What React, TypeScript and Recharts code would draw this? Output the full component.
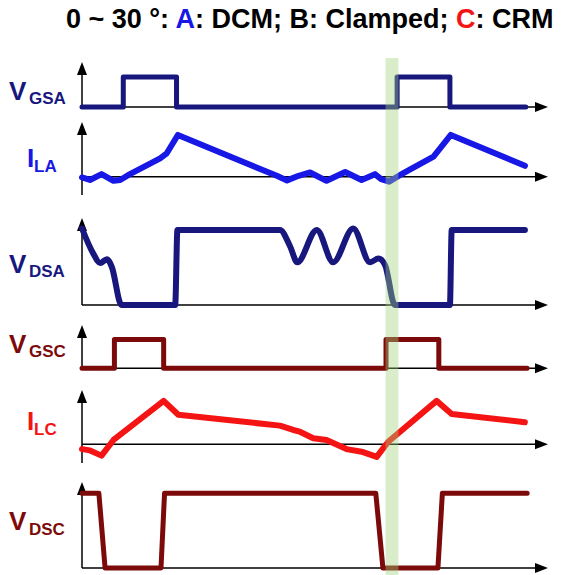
import React from 'react';
import { LineChart, Line, XAxis, YAxis, ReferenceLine, ReferenceArea } from 'recharts';

// time axis: 0 .. 105 (arbitrary time units)
const T_MAX = 105;

// waveform points: [time, value]
const vgsa: [number, number][] = [
  [0, 0], [9.3, 0], [9.3, 1], [21.3, 1], [21.3, 0], [71, 0], [71, 1], [82.9, 1], [82.9, 0], [100, 0],
];
const ila: [number, number][] = [
  [0, -0.02], [1.8, -0.08], [4.4, 0.06], [7.1, -0.1], [8.6, -0.08], [10.8, 0.06], [17.6, 0.44], [19.1, 0.56],
  [21.6, 1.0], [43.9, 0.02], [46.2, -0.09], [48.8, 0.02], [51.4, 0.1], [55.1, -0.1], [59.3, 0.11], [63.0, -0.08],
  [66.0, 0.06], [67.4, -0.06], [69.2, -0.12], [71.7, 0.04], [79.2, 0.48], [83.1, 1.0], [99.8, 0.26],
];
const vdsa: [number, number][] = [
  [0, 1.02], [2.5, 0.69], [4.1, 0.56], [5.6, 0.61], [6.7, 0.51], [8.9, 0], [21.0, 0], [21.5, 1], [44.6, 1],
  [46.9, 0.78], [48.5, 0.57], [52.9, 1.0], [56.6, 0.57], [61.1, 1.02], [64.9, 0.57], [66.8, 0.62], [68.3, 0.53],
  [70.5, 0], [82.9, 0], [83.3, 1], [99.8, 1],
];
const vgsc: [number, number][] = [
  [0, 0], [7.3, 0], [7.3, 1], [18.4, 1], [18.4, 0], [68.5, 0], [68.5, 1], [80.4, 1], [80.4, 0], [100.3, 0],
];
const ilc: [number, number][] = [
  [0, -0.11], [1.8, -0.14], [4.4, -0.26], [7.1, 0.1], [18.4, 1.0], [21.7, 0.68], [44.6, 0.43], [47.6, 0.33],
  [49.1, 0.29], [52.1, 0.14], [55.1, 0.1], [59.6, -0.11], [63.0, -0.17], [66.4, -0.29], [69.0, 0.06],
  [79.9, 1.0], [83.3, 0.7], [99.8, 0.51],
];
const vdsc: [number, number][] = [
  [0, 1], [3.8, 1], [5.2, 0], [17.8, 0], [18.6, 1], [66.2, 1], [67.8, 0], [80.2, 0], [81.2, 1], [100.3, 1],
];

// highlighted interval (time units)
const bandStart = 68.4;
const bandEnd = 71.3;

const NAVY = '#17177d';
const BLUE = '#1717e6';
const MAROON = '#7d0a0a';
const RED = '#f41414';

const LEFT = 82;
const RIGHT = 13;
const FONT = '"Liberation Sans", Arial, sans-serif';

const toRows = (pts: [number, number][]) => pts.map(([t, v]) => ({ t, v }));

const HArrow = (p: any) => {
  const x1 = Math.min(p.x1, p.x2);
  const x2 = Math.max(p.x1, p.x2);
  const y = p.y1;
  return (
    <g>
      <line x1={x1} y1={y} x2={x2 - 6} y2={y} stroke="#000" strokeWidth={1.5} />
      <polygon points={`${x2},${y} ${x2 - 13},${y - 5} ${x2 - 13},${y + 5}`} fill="#000" />
    </g>
  );
};

const VArrow = (p: any) => {
  const yTop = Math.min(p.y1, p.y2);
  const yBot = Math.max(p.y1, p.y2);
  const x = p.x1;
  return (
    <g>
      <line x1={x} y1={yTop + 6} x2={x} y2={yBot} stroke="#000" strokeWidth={1.5} />
      <polygon points={`${x},${yTop} ${x - 5},${yTop + 13} ${x + 5},${yTop + 13}`} fill="#000" />
    </g>
  );
};

type PanelProps = {
  pts: [number, number][];
  top: number;
  bottom: number;
  domain: [number, number];
  color: string;
  sw: number;
  curve?: 'linear' | 'monotone';
};

function Panel({ pts, top, bottom, domain, color, sw, curve = 'linear' }: PanelProps) {
  const pad = 8;
  return (
    <div style={{ position: 'absolute', left: 0, top: top - pad }}>
      <LineChart
        width={561}
        height={bottom - top + 2 * pad}
        data={toRows(pts)}
        margin={{ top: pad, bottom: pad, left: LEFT, right: RIGHT }}
      >
        <XAxis type="number" dataKey="t" domain={[0, T_MAX]} hide />
        <YAxis type="number" domain={domain} hide />
        <ReferenceLine y={0} shape={HArrow} />
        <ReferenceLine x={0} shape={VArrow} />
        <Line
          type={curve}
          dataKey="v"
          stroke={color}
          strokeWidth={sw}
          dot={false}
          activeDot={false}
          strokeLinejoin="round"
          strokeLinecap="round"
          isAnimationActive={false}
        />
      </LineChart>
    </div>
  );
}

function Label({ main, sub, x, subX, base, subBase, color }: any) {
  const mainSize = 26;
  const subSize = 17;
  return (
    <>
      <div
        style={{
          position: 'absolute', left: x, top: base - 0.8465 * mainSize, fontSize: mainSize,
          lineHeight: 1, fontWeight: 700, fontFamily: FONT, color,
        }}
      >
        {main}
      </div>
      <div
        style={{
          position: 'absolute', left: subX, top: subBase - 0.8465 * subSize, fontSize: subSize,
          lineHeight: 1, fontWeight: 700, fontFamily: FONT, color,
        }}
      >
        {sub}
      </div>
    </>
  );
}

export default function App() {
  const titleSize = 27;
  return (
    <div style={{ position: 'absolute', left: 0, top: 0, width: 561, height: 575, background: '#fff', overflow: 'hidden' }}>
      <div
        style={{
          position: 'absolute', left: 66, top: 29 - 0.8465 * titleSize, fontSize: titleSize, lineHeight: 1,
          fontWeight: 700, fontFamily: FONT, color: '#000', whiteSpace: 'nowrap',
        }}
      >
        0 ~ 30 °: <span style={{ color: BLUE }}>A</span>: DCM; B: Clamped; <span style={{ color: RED }}>C</span>: CRM
      </div>

      <Panel pts={vgsa} top={62} bottom={107} domain={[0, 1.5]} color={NAVY} sw={5} />
      <Panel pts={ila} top={122} bottom={195} domain={[-0.44, 1.31]} color={BLUE} sw={6} />
      <Panel pts={vdsa} top={218} bottom={305} domain={[0, 1.16]} color={NAVY} sw={6} curve="monotone" />
      <Panel pts={vgsc} top={325} bottom={368.3} domain={[0, 1.5]} color={MAROON} sw={5} />
      <Panel pts={ilc} top={390} bottom={463} domain={[-0.43, 1.25]} color={RED} sw={6} />
      <Panel pts={vdsc} top={482} bottom={568} domain={[0, 1.15]} color={MAROON} sw={5} />

      <Label main="V" sub="GSA" x={9} subX={29} base={100} subBase={104} color={NAVY} />
      <Label main="I" sub="LA" x={27} subX={34} base={167} subBase={172} color={BLUE} />
      <Label main="V" sub="DSA" x={9} subX={29} base={273} subBase={277} color={NAVY} />
      <Label main="V" sub="GSC" x={9} subX={29} base={353} subBase={357} color={MAROON} />
      <Label main="I" sub="LC" x={27} subX={34} base={430} subBase={435} color={RED} />
      <Label main="V" sub="DSC" x={9} subX={29} base={530} subBase={535} color={MAROON} />

      <div style={{ position: 'absolute', left: 0, top: 58 }}>
        <LineChart
          width={561}
          height={517}
          data={[{ t: 0, v: 0 }, { t: T_MAX, v: 1 }]}
          margin={{ top: 0, bottom: 0, left: LEFT, right: RIGHT }}
        >
          <XAxis type="number" dataKey="t" domain={[0, T_MAX]} hide />
          <YAxis type="number" domain={[0, 1]} hide />
          <Line dataKey="v" stroke="none" dot={false} activeDot={false} isAnimationActive={false} />
          <ReferenceArea x1={bandStart} x2={bandEnd} fill="#9fd27a" fillOpacity={0.4} stroke="none" />
        </LineChart>
      </div>
    </div>
  );
}
